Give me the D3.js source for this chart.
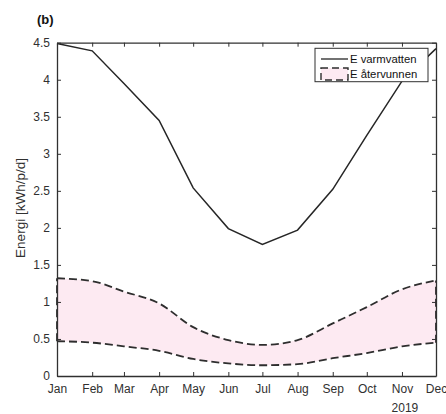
<!DOCTYPE html>
<html><head><meta charset="utf-8">
<script src="https://cdn.jsdelivr.net/npm/d3@7"></script>
<style>body{margin:0;background:#fff}svg{display:block;font-family:"Liberation Sans",Arial,sans-serif}</style>
</head><body><svg id="c" width="446" height="414"></svg>
<script>
const months = ["Jan","Feb","Mar","Apr","May","Jun","Jul","Aug","Sep","Oct","Nov","Dec"];
const varmvatten = [4.49,4.39,3.95,3.45,2.54,1.99,1.775,1.97,2.52,3.25,3.98,4.42];
const atervunnenHigh = [1.32,1.28,1.14,0.98,0.66,0.485,0.42,0.485,0.71,0.93,1.17,1.29];
const atervunnenLow = [0.47,0.45,0.40,0.34,0.23,0.17,0.145,0.16,0.24,0.31,0.40,0.45];
const yTicks = [0,0.5,1,1.5,2,2.5,3,3.5,4,4.5];
const year = 2019;

const svg = d3.select("#c");
const L=57, R=436, T=42.7, B=376;
const dates = months.map((m,i)=>new Date(year,i,1));
const x = d3.scaleTime().domain([dates[0],dates[11]]).range([L,R]);
const y = d3.scaleLinear().domain([0,4.5]).range([B,T]);
const axisCol = "#303030";
const dashCol = "#2e2e2e";

// fill area
const area = d3.area().x((d,i)=>x(dates[i])).y0((d,i)=>y(atervunnenLow[i])).y1(d=>y(d)).curve(d3.curveMonotoneX);
svg.append("path").attr("d",area(atervunnenHigh)).attr("fill","#fdeaf2");
const dl = arr => d3.line().x((d,i)=>x(dates[i])).y(d=>y(d)).curve(d3.curveMonotoneX)(arr);
[atervunnenHigh, atervunnenLow].forEach(a=>{
  svg.append("path").attr("d",dl(a)).attr("fill","none").attr("stroke",dashCol)
    .attr("stroke-width",1.8).attr("stroke-dasharray","8,4");
});
[0,11].forEach(i=>{
  svg.append("line").attr("x1",x(dates[i])).attr("x2",x(dates[i]))
    .attr("y1",y(atervunnenLow[i])).attr("y2",y(atervunnenHigh[i]))
    .attr("stroke",dashCol).attr("stroke-width",1.8).attr("stroke-dasharray","8,4");
});
// solid line
svg.append("path").attr("d",d3.line().x((d,i)=>x(dates[i])).y(d=>y(d))(varmvatten))
  .attr("fill","none").attr("stroke","#262626").attr("stroke-width",1.5);

// axes
const fs = "12px";
const xb = svg.append("g").attr("transform",`translate(0,${B})`)
  .call(d3.axisBottom(x).tickValues(dates).tickFormat((d,i)=>months[i]).tickSizeInner(-4).tickSizeOuter(0).tickPadding(8));
const xt = svg.append("g").attr("transform",`translate(0,${T})`)
  .call(d3.axisTop(x).tickValues(dates).tickFormat("").tickSizeInner(-4).tickSizeOuter(0));
const yl = svg.append("g").attr("transform",`translate(${L},0)`)
  .call(d3.axisLeft(y).tickValues(yTicks).tickFormat(d=>d3.format("")(d)).tickSizeInner(-4).tickSizeOuter(0).tickPadding(7));
const yr = svg.append("g").attr("transform",`translate(${R},0)`)
  .call(d3.axisRight(y).tickValues(yTicks).tickFormat("").tickSizeInner(-4).tickSizeOuter(0));
[xb,xt,yl,yr].forEach(g=>{
  g.selectAll("path").attr("stroke",axisCol).attr("stroke-width",1.3);
  g.selectAll("line").attr("stroke",axisCol).attr("stroke-width",1);
  g.selectAll("text").attr("fill",axisCol).style("font-size",fs).style("font-family","Liberation Sans, Arial, sans-serif");
});
svg.append("text").attr("x",x(dates[10])+3).attr("y",412).attr("text-anchor","middle")
  .attr("fill",axisCol).style("font-size",fs).text(String(year));
svg.append("text").attr("transform",`translate(25,208) rotate(-90)`).attr("text-anchor","middle")
  .attr("fill",axisCol).style("font-size","13.5px").text("Energi [kWh/p/d]");
svg.append("text").attr("x",37).attr("y",24).attr("font-weight","bold").style("font-size","13px").attr("fill","#111").text("(b)");

// legend
const lg = svg.append("g");
lg.append("rect").attr("x",315).attr("y",48.3).attr("width",113).attr("height",33.4)
  .attr("fill","#fff").attr("stroke",axisCol).attr("stroke-width",1);
lg.append("line").attr("x1",321).attr("x2",348).attr("y1",59).attr("y2",59).attr("stroke","#262626").attr("stroke-width",1.3);
lg.append("text").attr("x",350).attr("y",63).style("font-size","11.3px").attr("fill","#111").text("E varmvatten");
lg.append("rect").attr("x",321).attr("y",68).attr("width",27).attr("height",12)
  .attr("fill","#fdeaf2").attr("stroke",dashCol).attr("stroke-width",1.4).attr("stroke-dasharray","7,4");
lg.append("text").attr("x",350).attr("y",78).style("font-size","11.3px").attr("fill","#111").text("E återvunnen");
</script></body></html>
